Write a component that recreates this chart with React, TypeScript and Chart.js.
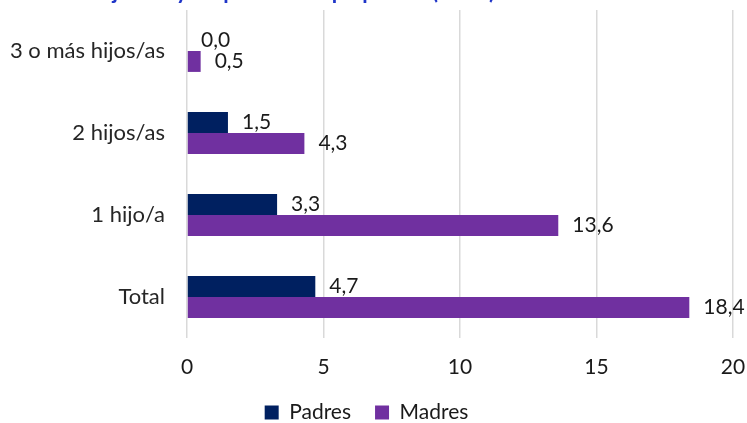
import React, { useEffect, useRef } from "react";
import { Chart, registerables } from "chart.js";

Chart.register(...registerables);

const categories = ["3 o más hijos/as", "2 hijos/as", "1 hijo/a", "Total"];
const padres = [0.0, 1.5, 3.3, 4.7];
const madres = [0.5, 4.3, 13.6, 18.4];
const xTicks = [0, 5, 10, 15, 20];
const titleText = "Porcentaje de padres y madres con hijos/as y empleo a tiempo parcial (2018)";

const FONT = "Lato, 'Open Sans', sans-serif";

const labelPlugin = {
  id: "valueLabels",
  afterDatasetsDraw(chart: any) {
    const ctx = chart.ctx;
    ctx.save();
    ctx.font = `21px ${FONT}`;
    ctx.fillStyle = "#1a1a1a";
    ctx.textAlign = "left";
    ctx.textBaseline = "middle";
    chart.data.datasets.forEach((ds: any, di: number) => {
      const meta = chart.getDatasetMeta(di);
      meta.data.forEach((bar: any, i: number) => {
        const v = ds.data[i] as number;
        ctx.fillText(v.toFixed(1).replace(".", ","), bar.x + 14, bar.y);
      });
    });
    ctx.restore();
  },
};

const titlePlugin = {
  id: "clippedTitle",
  afterDraw(chart: any) {
    const ctx = chart.ctx;
    ctx.save();
    ctx.font = `bold 22px ${FONT}`;
    ctx.fillStyle = "#1f35c8";
    ctx.textAlign = "right";
    ctx.textBaseline = "alphabetic";
    ctx.fillText(titleText, 495, -1);
    ctx.restore();
  },
};

export default function App() {
  const ref = useRef<HTMLCanvasElement>(null);
  useEffect(() => {
    if (!ref.current) return;
    const chart = new Chart(ref.current, {
      type: "bar",
      data: {
        labels: categories,
        datasets: [
          { label: "Padres", data: padres, backgroundColor: "#002060", categoryPercentage: 0.51, barPercentage: 1 },
          { label: "Madres", data: madres, backgroundColor: "#7030a0", categoryPercentage: 0.51, barPercentage: 1 },
        ],
      },
      options: {
        indexAxis: "y",
        animation: false,
        responsive: false,
        maintainAspectRatio: false,
        layout: { padding: { top: 10, right: 14, left: 0, bottom: -10 } },
        scales: {
          x: {
            min: 0,
            max: 20,
            afterBuildTicks: (scale: any) => {
              scale.ticks = xTicks.map((v) => ({ value: v }));
            },
            afterFit: (scale: any) => {
              scale.height = 40;
              scale.paddingLeft = 0;
              scale.paddingRight = 0;
            },
            grid: { color: "#d9d9d9", lineWidth: 1.5, drawTicks: false },
            border: { display: false },
            ticks: { color: "#1a1a1a", font: { size: 21, family: FONT }, padding: 17 },
          },
          y: {
            afterFit: (scale: any) => {
              scale.width = 187;
              scale.paddingTop = 0;
              scale.paddingBottom = 0;
            },
            grid: { display: false, drawTicks: false },
            border: { display: false },
            ticks: { color: "#262626", font: { size: 22, family: FONT }, padding: 22 },
          },
        },
        plugins: {
          legend: {
            position: "bottom",
            labels: {
              color: "#1a1a1a",
              font: { size: 21, family: FONT },
              boxWidth: 14,
              boxHeight: 14,
              padding: 24,
            },
          },
          tooltip: { enabled: false },
        },
      },
      plugins: [labelPlugin, titlePlugin],
    });
    return () => chart.destroy();
  }, []);
  return (
    <div style={{ position: "fixed", left: 0, top: 0, width: 747, height: 423, background: "#fff" }}>
      <canvas ref={ref} width={747} height={423} style={{ width: 747, height: 423 }} />
    </div>
  );
}
